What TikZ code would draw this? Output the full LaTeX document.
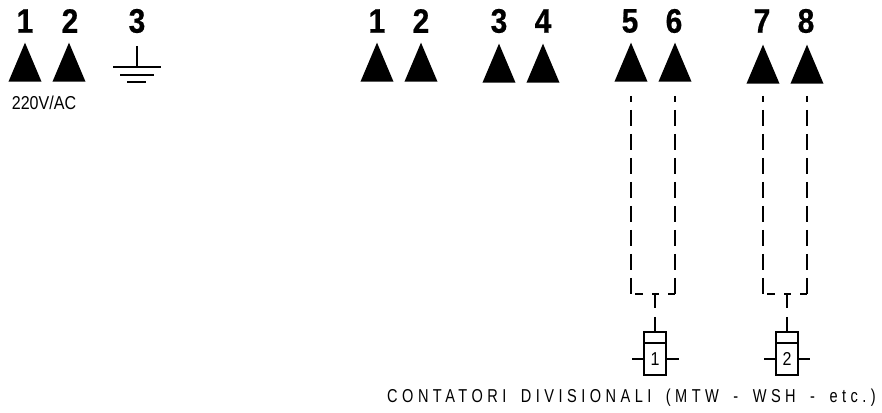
\documentclass[tikz,border=0pt]{standalone}
\usepackage{fontspec}
\setmainfont{Liberation Sans}
\newfontfamily\narrowfont[FakeStretch=0.86]{Liberation Sans}
\newfontfamily\spacedfont[FakeStretch=0.78,LetterSpace=24,WordSpace=1.7]{Liberation Sans}
\newfontfamily\numfont[FakeStretch=0.88,BoldFeatures={FakeBold=0.6}]{Liberation Sans}
\usetikzlibrary{positioning,shapes.geometric,calc}

\tikzset{
  tri/.style={fill=black,shape=isosceles triangle,shape border rotate=90,isosceles triangle apex angle=46,
    isosceles triangle stretches,minimum width=24.8pt,minimum height=29.3pt,inner sep=0pt,anchor=lower side},
  num/.style={font=\numfont\fontsize{25.5}{25.5}\selectfont\bfseries,inner sep=0pt},
  wire/.style={line width=1.4pt,dash pattern=on 12pt off 6pt,dash phase=7.5pt},
  lead/.style={line width=1.7pt},
  coil/.style={draw,line width=1.9pt,minimum width=16.5pt,inner sep=0pt,font=\narrowfont\fontsize{14}{14}\selectfont}
}

\begin{document}
\begin{tikzpicture}[x=.75pt,y=-.75pt]
      \useasboundingbox (0,0) rectangle (882,413);

      \path (25,82)  node[tri] (a1) {};
      \path (69,82)  node[tri] (a2) {};
      \path (377,82) node[tri] (t1) {};
      \path (421,82) node[tri] (t2) {};
      \path (499,83) node[tri] (t3) {};
      \path (543,83) node[tri] (t4) {};
      \path (631,82) node[tri] (t5) {};
      \path (675,82) node[tri] (t6) {};
      \path (763,84) node[tri] (t7) {};
      \path (807,84) node[tri] (t8) {};

      \path (25,21)  node[num] (na1) {1};
      \path (70,21)  node[num] (na2) {2};
      \path (137,21) node[num] (na3) {3};
      \path (377,21) node[num] (n1)  {1};
      \path (421,21) node[num] (n2)  {2};
      \path (499,21) node[num] (n3)  {3};
      \path (543,21) node[num] (n4)  {4};
      \path (630,21) node[num] (n5)  {5};
      \path (674,21) node[num] (n6)  {6};
      \path (762,21) node[num] (n7)  {7};
      \path (806,21) node[num] (n8)  {8};

      \path (44,103) node[inner sep=0pt,font=\narrowfont\fontsize{14}{14}\selectfont] (volt) {220V/AC};
      \path (631.5,398) node[inner sep=0pt,font=\spacedfont\fontsize{14}{14}\selectfont] (title) {CONTATORI DIVISIONALI (MTW - WSH - etc.)};

      % earth symbol
      \coordinate (g0) at (137,46);
      \coordinate (g1) at (137,67);
      \draw[line width=1.1pt] (g0) -- (g1);
      \draw[line width=1.1pt] (113,67) -- (161,67);
      \draw[line width=1.1pt] (120,75) -- (154,75);
      \draw[line width=1.1pt] (127,82) -- (146,82);

      % contactors
      \path (655,337.5) node[coil,minimum height=8.25pt] (c1) {};
      \path (655,359)   node[coil,minimum height=24pt] (k1) {1};
      \path (787,337.5) node[coil,minimum height=8.25pt] (c2) {};
      \path (787,359)   node[coil,minimum height=24pt] (k2) {2};

      \coordinate (d5) at (631,96);
      \coordinate (d6) at (675,96);
      \coordinate (d7) at (763,96);
      \coordinate (d8) at (807,96);
      \coordinate (b5) at (631,294);
      \coordinate (b6) at (675,294);
      \coordinate (b7) at (763,294);
      \coordinate (b8) at (807,294);
      \coordinate (j1) at (655,294);
      \coordinate (j2) at (787,294);
      \coordinate (s1) at (655,308);
      \coordinate (s2) at (787,308);
      \coordinate (u1) at (655,317);
      \coordinate (u2) at (787,317);

      \draw[wire] (d5) -- (b5);
      \draw[wire] (d6) -- (b6);
      \draw[wire] (d7) -- (b7);
      \draw[wire] (d8) -- (b8);
      \draw[lead] (635,294) -- (643,294);
      \draw[lead] (668,294) -- (b6);
      \draw[lead] (767,294) -- (775,294);
      \draw[lead] (800,294) -- (b8);
      \draw[lead] (j1) -- (s1);
      \draw[lead] (j2) -- (s2);
      \draw[lead] (652,294) -- (659,294);
      \draw[lead] (784,294) -- (791,294);
      \draw[lead] (u1) -- (c1);
      \draw[lead] (u2) -- (c2);
      \draw[lead] (k1.west) -- ++(-11,0);
      \draw[lead] (k1.east) -- ++(12,0);
      \draw[lead] (k2.west) -- ++(-11,0);
      \draw[lead] (k2.east) -- ++(11,0);

    \end{tikzpicture}
\end{document}
